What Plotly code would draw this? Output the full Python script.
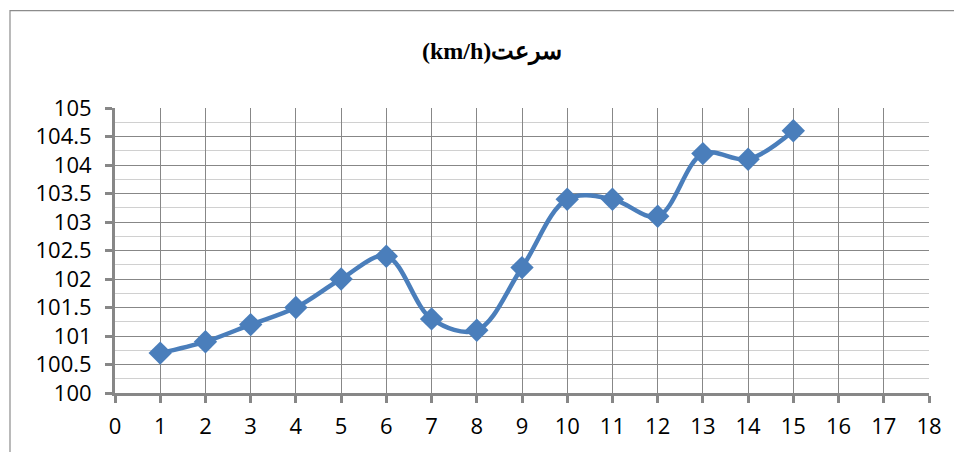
import plotly.graph_objects as go

# data
x_values = [1, 2, 3, 4, 5, 6, 7, 8, 9, 10, 11, 12, 13, 14, 15]
speed_kmh = [100.7, 100.9, 101.2, 101.5, 102.0, 102.4, 101.3, 101.1, 102.2,
             103.4, 103.4, 103.1, 104.2, 104.1, 104.6]
y_tick_vals = [100, 100.5, 101, 101.5, 102, 102.5, 103, 103.5, 104, 104.5, 105]
y_tick_text = ["100", "100.5", "101", "101.5", "102", "102.5", "103", "103.5", "104", "104.5", "105"]
x_tick_vals = list(range(0, 19))
title_text = "(km/h)سرعت"

LINE = "#4A7EBB"
GRID = "#878787"
MINOR = "#D0D0D0"

OFF = 8  # browser body margin
W, H = 962 - OFF, 452 - OFF
L, R, T, B = 115 - OFF, 33, 108 - OFF, 57
pw, ph = W - L - R, H - T - B


def px_x(px):
    return (px - OFF - L) / pw


def px_y(py):
    return (H - B - (py - OFF)) / ph


fig = go.Figure()
fig.add_trace(go.Scatter(
    x=x_values, y=speed_kmh, mode="lines+markers",
    line=dict(color=LINE, width=4.5, shape="spline", smoothing=1),
    marker=dict(symbol="diamond", size=18, color=LINE),
    showlegend=False, cliponaxis=False,
))

fig.update_layout(
    width=W, height=H,
    margin=dict(l=L, r=R, t=T, b=B),
    paper_bgcolor="white", plot_bgcolor="white",
    font=dict(family="Open Sans, Liberation Sans, sans-serif", size=22, color="black"),
    annotations=[dict(
        text=title_text, xref="paper", yref="paper",
        x=px_x(492), y=px_y(52), xanchor="center", yanchor="middle",
        showarrow=False,
        font=dict(family="Liberation Serif, DejaVu Serif, serif", size=24, color="black", weight="bold"),
    )],
    shapes=[dict(
        type="rect", xref="paper", yref="paper",
        x0=px_x(10), x1=px_x(1000),
        y0=px_y(500), y1=px_y(10),
        line=dict(color="#8C8C8C", width=1.2), fillcolor="rgba(0,0,0,0)", layer="below",
    )],
)

fig.update_xaxes(
    range=[0, 18], tickmode="array", tickvals=x_tick_vals,
    showgrid=True, gridcolor=GRID, gridwidth=1.3,
    showline=True, linecolor=GRID, linewidth=3,
    ticks="outside", ticklen=7, tickwidth=3, tickcolor=GRID,
    ticklabelstandoff=5,
    zeroline=False, fixedrange=True,
)
fig.update_yaxes(
    range=[100, 105], tickmode="array", tickvals=y_tick_vals, ticktext=y_tick_text,
    showgrid=True, gridcolor=GRID, gridwidth=1.3,
    minor=dict(dtick=0.25, showgrid=True, gridcolor=MINOR, gridwidth=1.3, ticks=""),
    showline=True, linecolor=GRID, linewidth=3,
    ticks="outside", ticklen=7, tickwidth=3, tickcolor=GRID,
    ticklabelstandoff=9,
    zeroline=False, fixedrange=True,
)

fig.write_html("out.html")
